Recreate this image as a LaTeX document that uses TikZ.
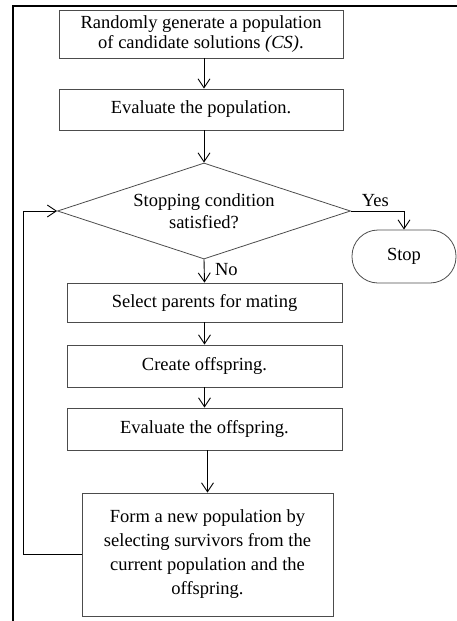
\documentclass[tikz,border=0pt]{standalone}
\usepackage{fontspec}
\setmainfont{Liberation Serif}
\usetikzlibrary{arrows.meta,shapes.geometric,positioning,calc}

\begin{document}
\begin{tikzpicture}[x=1pt,y=-1pt,>={Straight Barb[length=9pt,width=12pt]},
  every node/.style={font=\fontsize{18.5}{20}\selectfont,align=center},
  stepbox/.style={draw=black!70,line width=0.8pt,inner sep=2pt},
  decide/.style={draw=black!70,line width=0.8pt,diamond,aspect=3.05,inner sep=0pt,minimum width=293pt,minimum height=96pt},
  endbox/.style={draw=black!70,line width=0.8pt,rounded corners=26pt,minimum width=104pt,minimum height=53pt},
  link/.style={->,line width=0.9pt}]
\useasboundingbox (0,0) rectangle (457,621);
% page frame
\draw[line width=2pt] (13,625) -- (13,5.5) -- (460,5.5);
\node[stepbox,minimum width=284pt,minimum height=48pt] (gen) at (201,34) {Randomly generate a population\\of candidate solutions \textit{(CS)}.};
\node[stepbox,minimum width=284pt,minimum height=41pt] (evalpop) at (201,109.5) {Evaluate the population.};
\node[decide] (cond) at (204,211) {Stopping condition\\[2pt]satisfied?};
\node[endbox] (stop) at (404,256.5) {Stop};
\node[stepbox,minimum width=275pt,minimum height=39pt] (select) at (204.5,302.5) {Select parents for mating};
\node[stepbox,minimum width=275pt,minimum height=42pt] (create) at (204.5,366) {Create offspring.};
\node[stepbox,minimum width=275pt,minimum height=42pt] (evaloff) at (204.5,429) {Evaluate the offspring.};
\node[stepbox,minimum width=251pt,minimum height=123pt,font=\fontsize{18.5}{24}\selectfont] (form) at (207.5,554.5) {Form a new population by\\selecting survivors from the\\current population and the\\offspring.};
\coordinate (turn) at (23,554.5);
\draw[link] (gen.south -| cond.north) -- (evalpop.north -| cond.north);
\draw[link] (evalpop.south -| cond.north) -- (cond.north);
\draw[link] (cond.east) -| node[pos=0.23,above=1pt] {Yes} (stop.north);
\draw[link] (cond.south) -- node[pos=0.45,right=7pt] {No} (select.north);
\draw[link] (select) -- (create);
\draw[link] (create) -- (evaloff);
\draw[link] (evaloff.south -| form.north) -- (form.north);
\draw[link] (form.west) -- (turn) |- (cond.west);
\end{tikzpicture}
\end{document}
